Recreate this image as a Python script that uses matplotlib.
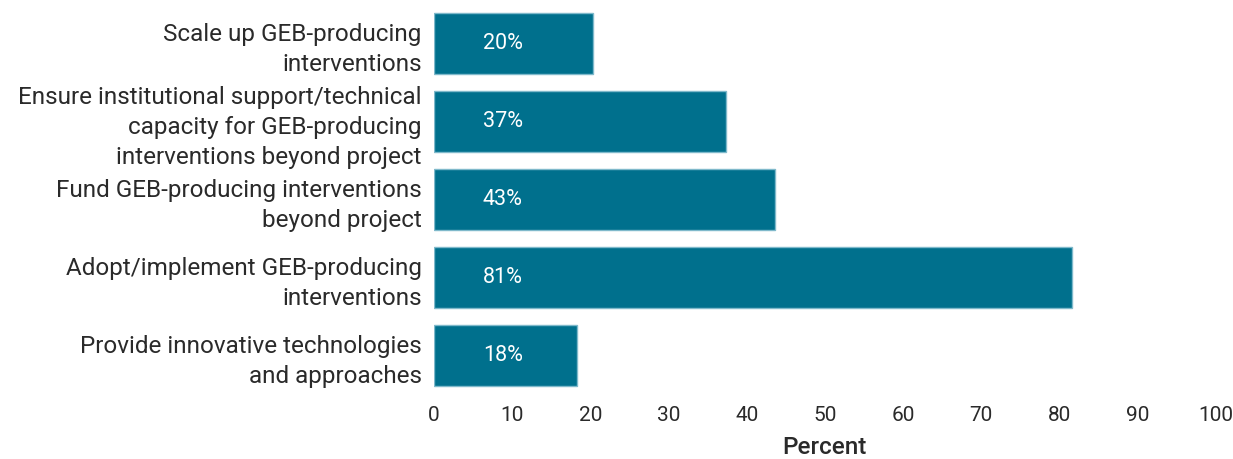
import matplotlib.pyplot as plt

# データ（上から順）
categories = [
    "Scale up GEB-producing\ninterventions",
    "Ensure institutional support/technical\ncapacity for GEB-producing\ninterventions beyond project",
    "Fund GEB-producing interventions\nbeyond project",
    "Adopt/implement GEB-producing\ninterventions",
    "Provide innovative technologies\nand approaches",
]
bar_values = [20.3, 37.4, 43.6, 81.6, 18.3]
value_labels = ["20%", "37%", "43%", "81%", "18%"]
x_ticks = [0, 10, 20, 30, 40, 50, 60, 70, 80, 90, 100]

plt.rcParams['font.family'] = ['Roboto', 'DejaVu Sans']

fig = plt.figure(figsize=(12.33, 4.59), dpi=100)
ax = fig.add_axes([0.352, 0.1405, 0.634, 0.85])

y_pos = list(range(len(categories)))
ax.barh(y_pos, bar_values, height=0.79, color='#00708d',
        edgecolor='#7fb9cb', linewidth=1)

for y, lab in zip(y_pos, value_labels):
    ax.text(8.8, y, lab, color='white', fontsize=15.5, ha='center', va='center')

ax.set_ylim(len(categories) - 0.5, -0.5)
ax.set_xlim(0, 100)
ax.set_yticks(y_pos)
ax.set_yticklabels(categories, fontsize=17.5, color='#2a2a2a', linespacing=1.38)
ax.set_xticks(x_ticks)
ax.set_xticklabels([str(t) for t in x_ticks], fontsize=15, color='#2a2a2a')
ax.tick_params(length=0, axis='y', pad=9)
ax.tick_params(length=0, axis='x', pad=8)
for s in ax.spines.values():
    s.set_visible(False)

ax.set_xlabel('Percent', fontsize=17.5, fontweight='medium', color='#2a2a2a', labelpad=8.5)

fig.savefig('out.png', dpi=100)
